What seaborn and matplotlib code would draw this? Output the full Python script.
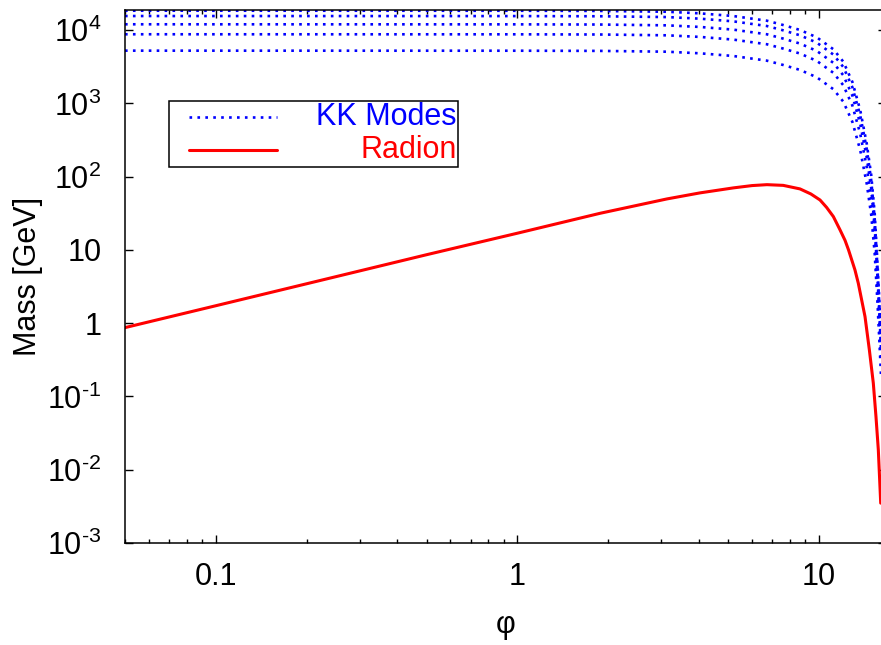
import matplotlib
matplotlib.use("Agg")
import matplotlib.pyplot as plt
import pandas as pd
import seaborn as sns
from matplotlib.patches import Rectangle
from matplotlib.lines import Line2D
from matplotlib.ticker import FixedLocator, FixedFormatter, LogLocator, NullLocator, NullFormatter

# ---- data -------------------------------------------------------------
# Kaluza-Klein tower: the five lowest modes, mass [GeV] vs phi
kk_phi = [0.05, 1.0, 1.88, 3.13, 4.03, 5.2, 5.9, 6.71, 7.61, 8.65, 9.83,
          11.16, 12.04, 12.9, 13.7, 14.4, 14.9, 15.3, 15.6, 15.85, 16.05]
kk_mode1 = [5240, 5230, 5200, 5070, 4820, 4430, 4120, 3830, 3340, 2860, 2270,
            1560, 1055, 560, 230, 80, 30, 9, 2.2, 0.6, 0.2]
kk_mode2 = [8770, 8755, 8705, 8487, 8069, 7416, 6897, 6411, 5591, 4788, 3800,
            2611, 1766, 937, 385, 134, 50.2, 15.1, 3.68, 1.0, 0.335]
kk_mode3 = [12000, 11977, 11908, 11610, 11038, 10145, 9435, 8771, 7649, 6549, 5198,
            3572, 2416, 1282, 527, 183, 68.7, 20.6, 5.04, 1.37, 0.458]
kk_mode4 = [15563, 15533, 15444, 15058, 14315, 13157, 12236, 11375, 9920, 8494, 6742,
            4633, 3133, 1663, 683, 238, 89.1, 26.7, 6.53, 1.78, 0.594]
kk_mode5 = [18392, 18357, 18252, 17796, 16918, 15549, 14461, 13443, 11723, 10039, 7968,
            5476, 3703, 1966, 807, 281, 105, 31.6, 7.72, 2.11, 0.702]

# Radion mass [GeV] vs phi
radion_phi = [0.05, 0.1, 0.2, 0.5, 1.0, 1.88, 3.13, 4.03, 5.2, 6.0, 6.72, 7.61, 8.65,
              9.4, 10.08, 10.6, 11.16, 11.74, 12.2, 12.53, 13.16, 13.5, 14.21, 14.69,
              15.14, 15.45, 15.73, 16.02]
radion_mass = [0.87, 1.73, 3.45, 8.6, 16.9, 31.6, 49.6, 60.0, 70.2, 75.5, 77.7, 76.0, 68.0,
               58.0, 48.0, 38.0, 28.5, 18.8, 13.5, 10.0, 5.33, 3.51, 1.23, 0.432,
               0.152, 0.0533, 0.0187, 0.0035]

x_ticks = [0.1, 1, 10]
x_tick_labels = ["0.1", "1", "10"]
y_ticks = [1e-3, 1e-2, 1e-1, 1, 10, 1e2, 1e3, 1e4]
y_tick_labels = [r"$10^{\text{-}3}$", r"$10^{\text{-}2}$", r"$10^{\text{-}1}$", "1", "10",
                 r"$10^{2}$", r"$10^{3}$", r"$10^{4}$"]

# ---- style ------------------------------------------------------------
sns.set_style("ticks")
plt.rcParams["font.family"] = ["Liberation Sans", "DejaVu Sans"]
plt.rcParams["mathtext.fontset"] = "custom"
plt.rcParams["mathtext.rm"] = "Liberation Sans"
plt.rcParams["mathtext.it"] = "Liberation Sans:italic"
plt.rcParams["mathtext.bf"] = "Liberation Sans:bold"
plt.rcParams["axes.labelcolor"] = "black"
plt.rcParams["text.color"] = "black"

FS = 22
BLUE = (0, 0, 1)
RED = (1, 0, 0)
KK_LS = (0, (1, 2))

fig = plt.figure(figsize=(8.81, 6.45), dpi=100)
ax = fig.add_axes([125 / 881, 102 / 645, 761 / 881, 533 / 645])
ax.set_xscale("log")
ax.set_yscale("log")

kk_table = pd.concat(
    [pd.DataFrame({"phi": kk_phi, "mass": m, "mode": i})
     for i, m in enumerate([kk_mode1, kk_mode2, kk_mode3, kk_mode4, kk_mode5], start=1)],
    ignore_index=True,
)
sns.lineplot(data=kk_table, x="phi", y="mass", units="mode", estimator=None,
             color=BLUE, lw=1.9, linestyle=KK_LS, sort=False, legend=False, ax=ax)

radion_table = pd.DataFrame({"phi": radion_phi, "mass": radion_mass})
sns.lineplot(data=radion_table, x="phi", y="mass", estimator=None, color=RED,
             lw=2.2, sort=False, legend=False, ax=ax)

ax.set_xlim(0.05, 16.68)
ax.set_ylim(1e-3, 1.88e4)

ax.xaxis.set_major_locator(FixedLocator(x_ticks))
ax.xaxis.set_major_formatter(FixedFormatter(x_tick_labels))
ax.xaxis.set_minor_locator(LogLocator(base=10, subs=range(2, 10)))
ax.xaxis.set_minor_formatter(NullFormatter())
ax.yaxis.set_major_locator(FixedLocator(y_ticks))
ax.yaxis.set_major_formatter(FixedFormatter(y_tick_labels))
ax.yaxis.set_minor_locator(NullLocator())

ax.tick_params(which="both", direction="in", top=True, right=True,
               labelsize=FS, colors="black", width=1)
ax.tick_params(which="major", length=6)
ax.tick_params(which="minor", length=3)
ax.tick_params(axis="x", pad=14)
ax.tick_params(axis="y", pad=17)
for s in ax.spines.values():
    s.set_linewidth(1.1)
    s.set_color("black")

ax.set_xlabel("φ", fontsize=FS, labelpad=13, color="black")
ax.set_ylabel("Mass [GeV]", fontsize=FS, labelpad=3, color="black")

# legend box drawn in axes coordinates
ax.add_patch(Rectangle((0.058, 0.705), 0.380, 0.124, transform=ax.transAxes,
                       facecolor="white", edgecolor="black", lw=1.1, zorder=5))
ax.add_line(Line2D([0.084, 0.200], [0.799, 0.799], transform=ax.transAxes,
                   color=BLUE, lw=1.9, linestyle=KK_LS, zorder=6))
ax.add_line(Line2D([0.084, 0.200], [0.737, 0.737], transform=ax.transAxes,
                   color=RED, lw=2.2, zorder=6))
ax.text(0.436, 0.799, "KK Modes", transform=ax.transAxes, ha="right",
        va="center", fontsize=FS, color=BLUE, zorder=7)
ax.text(0.436, 0.737, "Radion", transform=ax.transAxes, ha="right",
        va="center", fontsize=FS, color=RED, zorder=7)

fig.savefig("out.png", dpi=100)
